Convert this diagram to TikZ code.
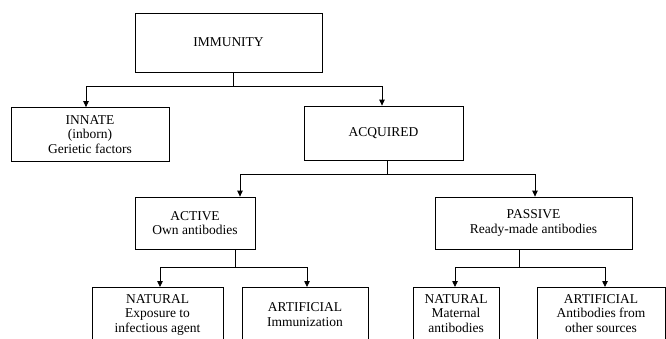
\documentclass[tikz,border=0pt]{standalone}
\usepackage{fontspec}
\setmainfont{Liberation Serif}
\usetikzlibrary{arrows.meta}
\tikzset{
  box/.style={draw, line width=0.8pt, inner sep=0pt, align=center, font=\fontsize{13.5}{14.5}\selectfont},
  openbox/.style={box, anchor=north, text depth=40pt},
  link/.style={line width=0.8pt},
  arr/.style={link, -{Triangle[length=6pt,width=5.5pt]}}
}
\begin{document}
\begin{tikzpicture}[x=1pt,y=-1pt]
\path[use as bounding box, clip] (0,0) rectangle (666,338);
% boxes
\node[box, minimum width=187pt, minimum height=59pt] (imm) at (228.5,42.5) {IMMUNITY};
\node[box, minimum width=158pt, minimum height=54pt] (inn) at (90,134.5) {INNATE\\(inborn)\\Gerietic factors};
\node[box, minimum width=159pt, minimum height=54pt] (acq) at (383.5,133) {ACQUIRED};
\node[box, minimum width=120pt, minimum height=52pt] (act) at (195,223) {ACTIVE\\Own antibodies};
\node[box, minimum width=197pt, minimum height=52pt] (pas) at (533.5,223) {PASSIVE\\Ready-made antibodies};
\node[openbox, minimum width=131pt, text height=45pt] (nat1) at (157.5,287) {NATURAL\\Exposure to\\infectious agent};
\node[openbox, minimum width=126pt, text height=39pt] (art1) at (305,287) {ARTIFICIAL\\Immunization};
\node[openbox, minimum width=86pt, text height=45pt] (nat2) at (456,287) {NATURAL\\Maternal\\antibodies};
\node[openbox, minimum width=128pt, text height=45pt] (art2) at (601,287) {ARTIFICIAL\\Antibodies from\\other sources};
% junctions
\coordinate (j1) at (233,86);
\coordinate (j2) at (387,174);
\coordinate (j3) at (235,267);
\coordinate (j4) at (519,267);
% connectors
\draw[link] (imm.south -| j1) -- (j1);
\draw[arr] (j1) -| ([xshift=-4pt]inn.north);
\draw[arr] (j1) -| ([xshift=-1.5pt]acq.north);
\draw[link] (acq.south -| j2) -- (j2);
\draw[arr] (j2) -| ([xshift=45pt]act.north);
\draw[arr] (j2) -| ([xshift=1.5pt]pas.north);
\draw[link] (act.south -| j3) -- (j3);
\draw[arr] (j3) -| ([xshift=2.5pt]nat1.north);
\draw[arr] (j3) -| ([xshift=2pt]art1.north);
\draw[link] (pas.south -| j4) -- (j4);
\draw[arr] (j4) -| ([xshift=-1pt]nat2.north);
\draw[arr] (j4) -| ([xshift=4pt]art2.north);
\end{tikzpicture}
\end{document}
